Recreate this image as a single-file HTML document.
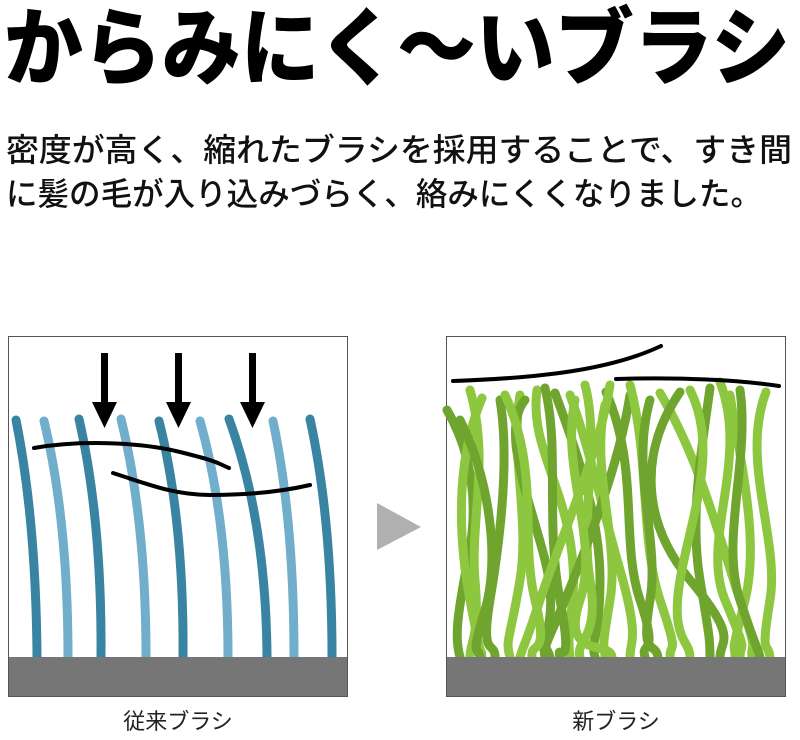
<!DOCTYPE html>
<html><head><meta charset="utf-8"><style>
html,body{margin:0;padding:0;background:#fff;width:800px;height:740px;overflow:hidden}
svg{display:block}
text{font-family:"Liberation Sans","Noto Sans CJK JP",sans-serif}
</style></head><body>
<svg width="800" height="740" viewBox="0 0 800 740" xmlns="http://www.w3.org/2000/svg">
<text x="4" y="0" font-size="80" font-weight="900" textLength="786" lengthAdjust="spacingAndGlyphs" fill="#000" transform="translate(0,78) scale(1,1.06)">からみにく～いブラシ</text>
<text x="6" y="161" font-size="32" font-weight="500" textLength="786" lengthAdjust="spacingAndGlyphs" fill="#111">密度が高く、縮れたブラシを採用することで、すき間</text>
<text x="6" y="205" font-size="32" font-weight="500" textLength="756" lengthAdjust="spacingAndGlyphs" fill="#111">に髪の毛が入り込みづらく、絡みにくくなりました。</text>

<rect x="8.5" y="336.5" width="339" height="360" fill="#fff" stroke="#555" stroke-width="1"/>
<g fill="none" stroke-width="9" stroke-linecap="round">
<path d="M16 420 Q36 520 37 657" stroke="#3a84a3"/>
<path d="M44 421 Q68 520 68 657" stroke="#70aecb"/>
<path d="M79 419 Q102 520 101 657" stroke="#3a84a3"/>
<path d="M121 419 Q146 520 146 657" stroke="#70aecb"/>
<path d="M159 421 Q184 520 183 657" stroke="#3a84a3"/>
<path d="M200 421 Q228 520 228 657" stroke="#70aecb"/>
<path d="M229 419 Q266 520 267 657" stroke="#3a84a3"/>
<path d="M273 421 Q294 520 294 657" stroke="#70aecb"/>
<path d="M310 419 Q332 520 332 657" stroke="#3a84a3"/>
</g>
<g fill="none" stroke="#000" stroke-width="4" stroke-linecap="round">
<path d="M34 448 C80 440 140 442 180 452 S215 462 229 468"/>
<path d="M113 473 C150 485 175 495 210 495 S280 492 310 485"/>
</g>
<g fill="#000">
<rect x="101" y="353" width="7" height="52"/><polygon points="92,402 117,402 104.5,428"/>
<rect x="175" y="353" width="7" height="52"/><polygon points="166,402 191,402 178.5,428"/>
<rect x="249" y="353" width="7" height="52"/><polygon points="240,402 265,402 252.5,428"/>
</g>
<rect x="9" y="657" width="338" height="39" fill="#767676"/>

<polygon points="377,503 377,550 421,527" fill="#b0b0b0"/>

<rect x="446.5" y="336.5" width="339" height="360" fill="#fff" stroke="#555" stroke-width="1"/>
<g fill="none" stroke-width="9" stroke-linecap="round">
<path d="M447 410 C470 450 480 500 468 560 S455 640 460 657" stroke="#6fa52e"/>
<path d="M470 390 C490 460 470 520 475 580 S470 640 470 657" stroke="#8dc63f"/>
<path d="M482 398 C460 450 455 520 470 600 S480 640 482 657" stroke="#8dc63f"/>
<path d="M520 395 C510 450 530 520 520 580 S505 640 510 657" stroke="#8dc63f"/>
<path d="M525 400 C500 430 530 500 545 560 S540 640 545 657" stroke="#6fa52e"/>
<path d="M537 390 C530 440 560 480 570 540 S565 620 570 657" stroke="#8dc63f"/>
<path d="M545 388 C560 450 545 520 560 600 S555 640 560 657" stroke="#6fa52e"/>
<path d="M555 393 C580 460 600 520 600 580 S590 640 595 657" stroke="#6fa52e"/>
<path d="M570 395 C590 450 600 500 620 570 S630 640 630 657" stroke="#8dc63f"/>
<path d="M585 385 C600 440 580 520 590 580 S575 640 580 657" stroke="#8dc63f"/>
<path d="M606 392 C640 470 620 540 640 600 S640 640 645 657" stroke="#6fa52e"/>
<path d="M610 385 C600 450 560 540 540 600 S525 640 520 657" stroke="#8dc63f"/>
<path d="M630 395 C620 460 590 540 565 600 S545 640 550 657" stroke="#6fa52e"/>
<path d="M630 385 C650 460 640 540 660 600 S670 640 670 657" stroke="#8dc63f"/>
<path d="M660 393 C700 460 720 540 740 600 S750 640 752 657" stroke="#8dc63f"/>
<path d="M680 392 C640 450 640 520 690 580 S720 640 720 657" stroke="#6fa52e"/>
<path d="M710 388 C700 460 690 520 700 580 S710 640 710 657" stroke="#6fa52e"/>
<path d="M720 382 C750 460 700 540 725 600 S740 640 740 657" stroke="#8dc63f"/>
<path d="M730 395 C740 460 760 540 745 600 S735 640 735 657" stroke="#8dc63f"/>
<path d="M740 390 C750 460 720 540 740 600 S755 640 760 657" stroke="#6fa52e"/>
<path d="M766 392 C740 460 780 540 770 600 S768 640 770 657" stroke="#8dc63f"/>
<path d="M500 400 C510 460 500 540 490 600 S495 640 495 657" stroke="#6fa52e"/>
<path d="M605 405 C590 470 620 540 610 600 S605 640 605 657" stroke="#8dc63f"/>
<path d="M690 390 C720 450 690 520 680 580 S690 640 690 657" stroke="#8dc63f"/>
<path d="M505 395 C540 470 520 540 535 600 S530 640 532 657" stroke="#8dc63f"/>
<path d="M650 400 C630 470 660 540 650 600 S655 640 658 657" stroke="#6fa52e"/>
<path d="M575 400 C560 470 600 540 580 600 S610 640 612 657" stroke="#8dc63f"/>
<path d="M460 420 C490 480 500 560 485 610 S478 645 480 657" stroke="#6fa52e"/>
</g>
<g fill="none" stroke="#000" stroke-width="4" stroke-linecap="round">
<path d="M453 381 C540 378 610 370 661 346"/>
<path d="M616 379 C680 377 740 380 779 386"/>
</g>
<rect x="447" y="657" width="338" height="39" fill="#767676"/>

<text x="178" y="729" font-size="22" text-anchor="middle" fill="#222">従来ブラシ</text>
<text x="616" y="729" font-size="22" text-anchor="middle" fill="#222">新ブラシ</text>
</svg>
</body></html>
